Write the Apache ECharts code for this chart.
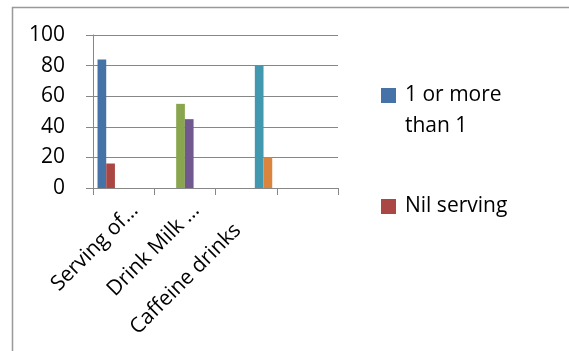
<!DOCTYPE html>
<html>
<head>
<meta charset="utf-8">
<script src="https://cdn.jsdelivr.net/npm/echarts@6/dist/echarts.min.js"></script>
<style>
  html, body { margin: 0; padding: 0; background: #fff; }
  #chart { width: 569px; height: 351px; }
</style>
</head>
<body>
<div id="chart"></div>
<script>
// ---- data ----
const categories = ['Serving of…', 'Drink Milk …', 'Caffeine drinks', ''];
const seriesNames = ['1 or more than 1', 'Nil serving'];
const oneOrMore = [84, 55, 80];
const nilServing = [16, 45, 20];
const yMin = 0, yMax = 100, yInterval = 20;

// ---- styling ----
const pointColors = [
  ['#4572A7', '#AA4643'],
  ['#89A54E', '#71588F'],
  ['#4198AF', '#DB843D']
];
const FONT = 'Open Sans';
const FS = 21;
const gray = '#878787';
// per-label right padding (Excel places the un-truncated label a bit lower-left)
const labelPadRight = [0, 0, 28, 0];

const valueSets = [oneOrMore, nilServing];
const series = [];
for (let i = 0; i < oneOrMore.length; i++) {
  for (let j = 0; j < valueSets.length; j++) {
    series.push({
      type: 'bar',
      name: seriesNames[j],
      barWidth: 8.7,
      barGap: '0%',
      itemStyle: { color: pointColors[i][j] },
      data: categories.map((c, k) => (k === i ? valueSets[j][i] : null))
    });
  }
}

const labelStyle = {
  fontSize: FS, fontFamily: FONT, color: '#000',
  verticalAlign: 'top', lineHeight: 32
};
const xData = categories.map((c, i) => labelPadRight[i] ? {
  value: c,
  textStyle: Object.assign({}, labelStyle, { padding: [0, labelPadRight[i], 0, 0] })
} : c);

const chart = echarts.init(document.getElementById('chart'), null, { renderer: 'canvas' });
chart.setOption({
  animation: false,
  backgroundColor: '#fff',
  color: [pointColors[0][0], pointColors[0][1]],
  grid: { left: 93, right: 231, top: 35, bottom: 163, outerBoundsMode: 'none', containLabel: false },
  xAxis: {
    type: 'category',
    data: xData,
    boundaryGap: true,
    axisLine: { lineStyle: { color: gray, width: 1 } },
    axisTick: { show: true, length: 7, lineStyle: { color: gray }, interval: 0 },
    axisLabel: Object.assign({ interval: 0, rotate: 45, margin: 8 }, labelStyle),
    splitLine: { show: false }
  },
  yAxis: {
    type: 'value',
    min: yMin, max: yMax, interval: yInterval,
    axisLine: { show: true, lineStyle: { color: gray, width: 1 } },
    axisTick: { show: true, length: 7, lineStyle: { color: gray } },
    axisLabel: { fontSize: FS, fontFamily: FONT, color: '#000', margin: 28 },
    splitLine: { show: true, lineStyle: { color: gray, width: 1 } }
  },
  legend: {
    orient: 'vertical',
    left: 381,
    top: 49,
    padding: 0,
    itemWidth: 15,
    itemHeight: 15,
    itemGap: 49,
    icon: 'rect',
    formatter: function (name) {
      return (name === seriesNames[0] ? '\n' : '') + name;
    },
    textStyle: {
      fontSize: FS, fontFamily: FONT, color: '#000', lineHeight: 31,
      width: 122, overflow: 'break', padding: [0, 0, 0, 4]
    },
    data: seriesNames
  },
  graphic: [{
    type: 'rect',
    silent: true,
    shape: { x: 12.5, y: 7.5, width: 700, height: 500 },
    style: { fill: 'none', stroke: '#999', lineWidth: 1.5 }
  }],
  series: series
});
</script>
</body>
</html>
